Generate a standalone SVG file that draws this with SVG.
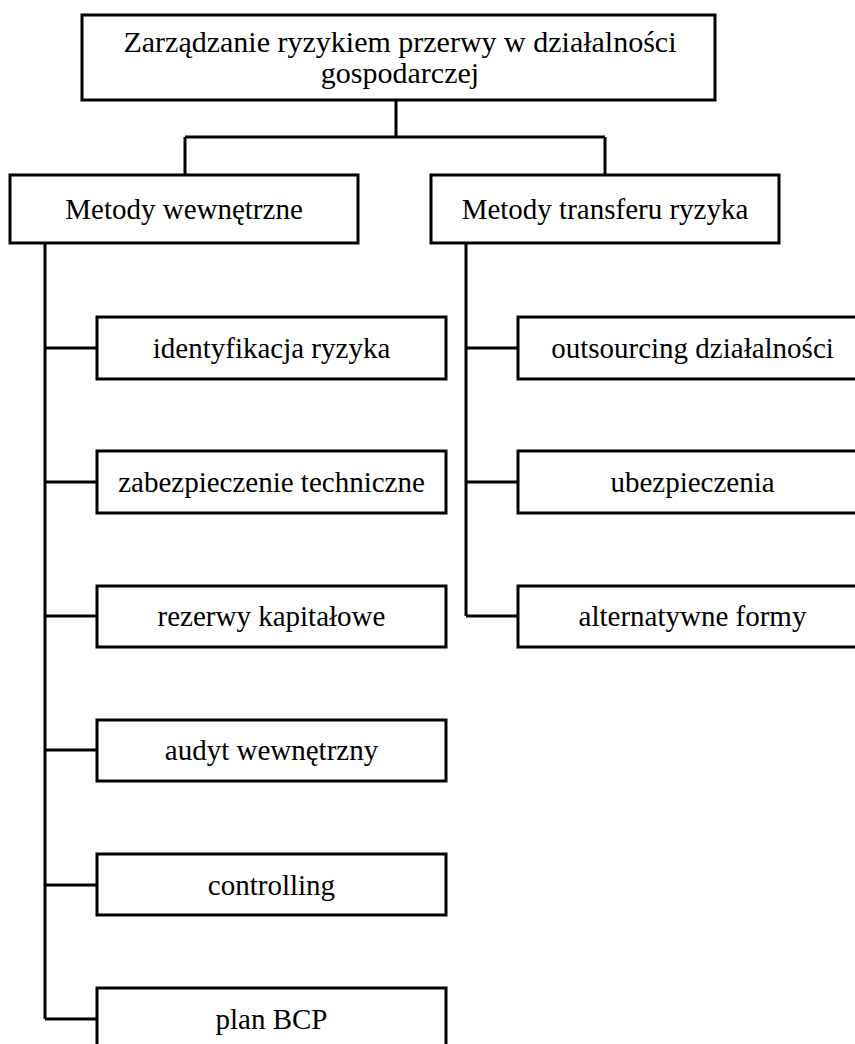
<svg xmlns="http://www.w3.org/2000/svg" width="855" height="1044" viewBox="0 0 855 1044">
<style>
.box{fill:#fff;stroke:#000;stroke-width:3}
.lbl{font-family:"Liberation Serif","Times New Roman",serif;font-size:29px;fill:#000;text-anchor:middle}
.big{font-size:30px}
.con{fill:none;stroke:#000;stroke-width:3}
</style>
<rect width="855" height="1044" fill="#fff"/>
<g id="connectors">
<path class="con" d="M396,100V137M185,137H605M185,137V175M605,137V175"/>
<path class="con" d="M45,243V1019M45,348H97M45,482H97M45,616H97M45,750H97M45,885H97M45,1019H97"/>
<path class="con" d="M466,243V616M466,348H518M466,482H518M466,616H518"/>
</g>
<g id="root"><rect class="box" x="82" y="15" width="633" height="85"/><text class="lbl big" x="400" y="52">Zarządzanie ryzykiem przerwy w działalności</text><text class="lbl big" x="400" y="83">gospodarczej</text></g>
<g id="internal"><rect class="box" x="10" y="175" width="348" height="68"/><text class="lbl" x="184" y="219">Metody wewnętrzne</text></g>
<g id="transfer"><rect class="box" x="431" y="175" width="348" height="68"/><text class="lbl" x="605" y="219">Metody transferu ryzyka</text></g>
<g id="n1"><rect class="box" x="97" y="317" width="349" height="62"/><text class="lbl" x="271.5" y="358">identyfikacja ryzyka</text></g>
<g id="n2"><rect class="box" x="97" y="451" width="349" height="62"/><text class="lbl" x="271.5" y="492">zabezpieczenie techniczne</text></g>
<g id="n3"><rect class="box" x="97" y="586" width="349" height="61"/><text class="lbl" x="271.5" y="626">rezerwy kapitałowe</text></g>
<g id="n4"><rect class="box" x="97" y="720" width="349" height="61"/><text class="lbl" x="271.5" y="760">audyt wewnętrzny</text></g>
<g id="n5"><rect class="box" x="97" y="854" width="349" height="61"/><text class="lbl" x="271.5" y="895">controlling</text></g>
<g id="n6"><rect class="box" x="97" y="988" width="349" height="70"/><text class="lbl" x="271.5" y="1029">plan BCP</text></g>
<g id="r1"><rect class="box" x="518" y="317" width="349" height="62"/><text class="lbl" x="692.5" y="358">outsourcing działalności</text></g>
<g id="r2"><rect class="box" x="518" y="451" width="349" height="62"/><text class="lbl" x="692.5" y="492">ubezpieczenia</text></g>
<g id="r3"><rect class="box" x="518" y="586" width="349" height="61"/><text class="lbl" x="692.5" y="626">alternatywne formy</text></g>
</svg>
